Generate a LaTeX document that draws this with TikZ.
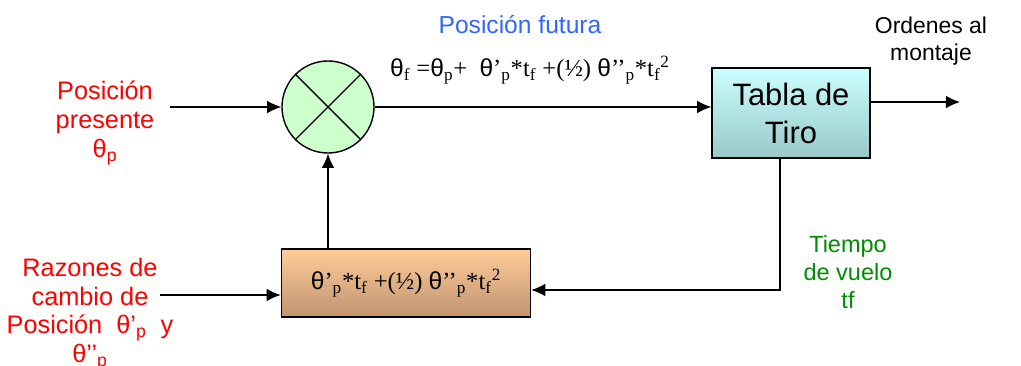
\documentclass[tikz,border=0pt]{standalone}
\usepackage{fontspec}
\setmainfont{Liberation Sans}
\newfontfamily\timesf{Liberation Serif}
\newfontfamily\arialf{Liberation Sans}
\usetikzlibrary{arrows.meta}

\definecolor{rojo}{HTML}{FF0000}
\definecolor{azul}{HTML}{3366FF}
\definecolor{verde}{HTML}{008C00}
\definecolor{verdec}{HTML}{CCFFCC}
\definecolor{cian1}{HTML}{CCFFFF}
\definecolor{cian2}{HTML}{99C8C8}
\definecolor{arena1}{HTML}{FFCC99}
\definecolor{arena2}{HTML}{C09470}

\newcommand\tht{{\arialf θ}}
\newcommand\sbs[1]{\textsubscript{#1}}
\newcommand\sps[1]{\textsuperscript{#1}}

\tikzset{
  flecha/.style={-{Latex[length=10pt,width=9pt]}, line width=1pt},
  etiq/.style={align=center, font=\fontsize{17.5}{20}\selectfont},
  formula/.style={font=\timesf\fontsize{17.5}{20}\selectfont},
  bloque/.style={draw, line width=1pt, inner sep=0pt}
}

\begin{document}
\begin{tikzpicture}[x=0.025cm,y=-0.025cm]
\useasboundingbox (0,0) rectangle (1021,366);

% bloques
\node[circle, draw, line width=1pt, fill=verdec, minimum size=2.3cm] (suma) at (328,107) {};
\draw[line width=1pt] (suma.45) -- (suma.225) (suma.135) -- (suma.315);
\node[bloque, top color=cian1, bottom color=cian2, minimum width=3.95cm, minimum height=2.25cm,
  align=center, font=\fontsize{22}{27}\selectfont] (tabla) at (791,113) {Tabla de\\Tiro};
\node[bloque, top color=arena1, bottom color=arena2, minimum width=6.225cm, minimum height=1.7cm,
  formula] (deriv) at (406,283)
  {\tht’\sbs{p}*t\sbs{f} +(½) \tht’’\sbs{p}*t\sbs{f}\sps{2}};

% puntos libres
\coordinate (entp) at (170,107);
\coordinate (entr) at (160,295);
\coordinate (sal) at (960,102);
\coordinate (esq) at (780,290);

% conexiones
\draw[flecha] (entp) -- (suma);
\draw[flecha] (suma.east) -- (suma.east -| tabla.west);
\draw[flecha] (tabla.east |- sal) -- (sal);
\draw[flecha] (tabla.south -| esq) -- (esq) -- (esq -| deriv.east);
\draw[flecha] (entr) -- (entr -| deriv.west);
\draw[flecha] (deriv.north -| suma) -- (suma.south);

% textos
\node[etiq, text=rojo, font=\fontsize{18}{20.5}\selectfont] (pospres) at (105,123)
  {Posición\\presente\\\tht\sbs{p}};
\node[etiq, text=rojo, font=\fontsize{18}{20.5}\selectfont] (razones) at (90,314)
  {Razones de\\cambio de\\Posición\ \ \tht’\sbs{p}\ \ y\\\tht’’\sbs{p}};
\node[etiq, text=azul] (futura) at (520,25) {Posición futura};
\node[formula] (ecuac) at (530,70)
  {\tht\sbs{f} =\tht\sbs{p}+\ \ \tht’\sbs{p}*t\sbs{f} +(½) \tht’’\sbs{p}*t\sbs{f}\sps{2}};
\node[etiq, font=\fontsize{16.3}{19.5}\selectfont] (ordenes) at (931,41) {Ordenes al\\montaje};
\node[etiq, text=verde, font=\fontsize{16.7}{20}\selectfont] (tiempo) at (848,272) {Tiempo\\de vuelo\\tf};
\end{tikzpicture}
\end{document}
